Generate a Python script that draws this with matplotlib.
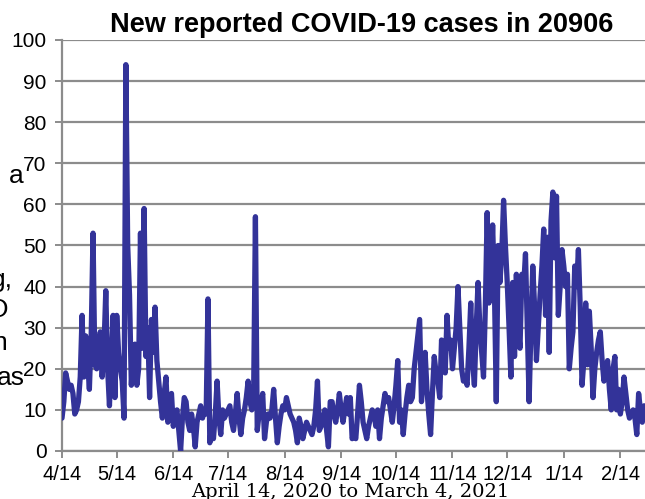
#!/usr/bin/env python3
"""Daily new COVID-19 cases for ZIP 20906, Apr 2020 - Mar 2021."""

import matplotlib

matplotlib.use("Agg")
import matplotlib.pyplot as plt
import numpy as np
import pandas as pd

START = "2020-04-14"
# daily new cases (one value per day from 4/14)
CASES = [
    8, 12, 19, 17, 15, 16, 14, 9, 10, 12, 18, 33, 18, 28, 22, 15, 28, 53, 21, 20,
    26, 29, 18, 25, 39, 20, 11, 22, 33, 13, 33, 24, 20, 17, 8, 94, 50, 38, 16, 24,
    26, 16, 20, 53, 25, 59, 23, 30, 13, 32, 24, 35, 22, 17, 12, 8, 14, 18, 7, 12,
    14, 6, 9, 10, 5, 0, 8, 13, 12, 7, 5, 9, 6, 1, 7, 9, 11, 8, 10, 9,
    37, 2, 6, 3, 9, 17, 8, 4, 10, 8, 9, 10, 11, 7, 5, 9, 14, 8, 4, 8,
    10, 13, 17, 12, 10, 13, 57, 5, 9, 12, 14, 3, 7, 9, 8, 10, 15, 8, 2, 6,
    9, 11, 10, 13, 11, 9, 8, 7, 5, 2, 8, 6, 3, 5, 7, 6, 5, 4, 6, 10,
    17, 5, 6, 8, 10, 5, 1, 12, 12, 9, 7, 10, 14, 10, 7, 10, 13, 9, 13, 3,
    4, 3, 9, 16, 12, 7, 5, 3, 6, 8, 10, 9, 6, 10, 3, 8, 11, 14, 12, 13,
    10, 7, 11, 16, 22, 7, 10, 4, 9, 13, 16, 12, 13, 20, 24, 28, 32, 12, 18, 24,
    15, 9, 4, 14, 23, 19, 17, 13, 27, 22, 19, 33, 25, 27, 20, 25, 30, 40, 30, 20,
    17, 18, 16, 25, 36, 22, 16, 30, 41, 30, 24, 18, 35, 58, 36, 40, 55, 39, 12, 50,
    41, 48, 61, 50, 41, 30, 18, 41, 23, 43, 30, 25, 43, 40, 48, 30, 12, 30, 45, 35,
    22, 30, 38, 45, 54, 33, 52, 24, 56, 63, 47, 62, 33, 40, 49, 45, 40, 43, 20, 25,
    29, 45, 40, 49, 35, 16, 22, 36, 21, 34, 25, 13, 20, 24, 27, 29, 22, 17, 20, 22,
    15, 10, 20, 23, 10, 15, 9, 12, 18, 14, 10, 8, 9, 10, 8, 4, 14, 10, 7, 11,
    9, 8, 10, 9,
]
TICK_DATES = pd.date_range("2020-04-01", periods=11, freq="MS") + pd.Timedelta(days=13)
TICK_LABELS = [f"{d.month}/{d.day}" for d in TICK_DATES]
TITLE = "New reported COVID-19 cases in 20906"
XLABEL = "April 14, 2020 to March 4, 2021"
# fragments of text that peek out from behind the chart on the left
STRAY = [("a", 24, 183), ("g,", 13, 287), ("O", 8, 317), ("n", 7, 350), ("as", 25, 385)]

LINE_COLOR = "#333399"
GRID_COLOR = "#8c8c8c"

dates = pd.date_range(START, periods=len(CASES), freq="D")

plt.rcParams["font.family"] = ["Liberation Sans", "DejaVu Sans"]

fig = plt.figure(figsize=(6.45, 4.99), dpi=100)
W, H = 645, 499
ax = fig.add_axes([62 / W, 48 / H, 1 - 62 / W, 411 / H])

ax.plot(dates, CASES, color=LINE_COLOR, linewidth=3.8, solid_joinstyle="round", solid_capstyle="round", zorder=3)

ax.set_ylim(0, 100)
ax.set_yticks(np.arange(0, 101, 10))
start = pd.Timestamp(START)
ax.set_xlim(start, start + pd.Timedelta(days=319.5))
ax.set_xticks(TICK_DATES)
ax.set_xticklabels(TICK_LABELS)

ax.grid(axis="y", color=GRID_COLOR, linewidth=1.6)
ax.set_axisbelow(True)
for side in ("top", "right"):
    ax.spines[side].set_visible(False)
for side in ("left", "bottom"):
    ax.spines[side].set_color(GRID_COLOR)
    ax.spines[side].set_linewidth(1.6)
ax.tick_params(axis="y", length=5, width=1.4, color=GRID_COLOR, labelsize=15, pad=6)
ax.tick_params(axis="x", length=5, width=1.4, color=GRID_COLOR, labelsize=14.5, pad=5)

fig.text(362 / W, 1 - 32 / H, TITLE, ha="center", va="baseline", fontsize=19.5, fontweight="bold")
fig.text(350 / W, 2 / H, XLABEL, ha="center", va="baseline", fontsize=14, family="DejaVu Serif")
for txt, xr, yb in STRAY:
    fig.text(xr / W, 1 - yb / H, txt, ha="right", va="baseline", fontsize=19)

fig.savefig("out.png", dpi=100)
